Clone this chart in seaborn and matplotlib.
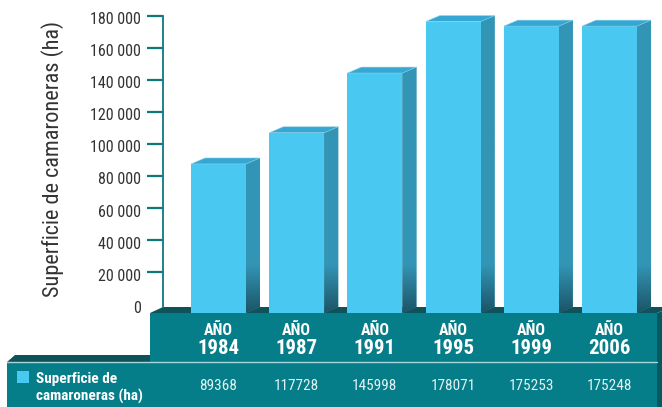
import numpy as np
import seaborn as sns
import matplotlib.pyplot as plt
from matplotlib import transforms
from matplotlib.patches import Polygon, Rectangle

# data
years = ["1984", "1987", "1991", "1995", "1999", "2006"]
# bar heights as drawn (the 1987 bar is drawn shorter than its table value)
bar_heights = [89368, 108800, 145998, 178071, 175253, 175248]
table_values = ["89368", "117728", "145998", "178071", "175253", "175248"]
y_ticks = [0, 20000, 40000, 60000, 80000, 100000, 120000, 140000, 160000, 180000]
y_tick_labels = ["0", "20 000", "40 000", "60 000", "80 000", "100 000",
                 "120 000", "140 000", "160 000", "180 000"]
series_name = "Superficie de\ncamaroneras (ha)"
y_title = "Superficie de camaroneras (ha)"

# colours
cyan = "#49c8f2"
top_col = "#36a7d2"
side_col = "#3395b6"
side_dark = "#1b5466"
teal = "#067e8a"
floor_col = "#0d5359"
axis_col = "#11777f"
text_col = "#333333"

sns.set_style("white")
cond = ["Roboto Condensed", "Fira Sans Condensed", "DejaVu Sans"]
plt.rcParams["font.family"] = cond

W, H = 662, 407
fig = plt.figure(figsize=(W / 100, H / 100), dpi=100)

# background axes in pixel units for the floor slab and table
bg = fig.add_axes([0, 0, 1, 1])
bg.set_xlim(0, W)
bg.set_ylim(H, 0)
bg.axis("off")

# main axes: value scale on the back plane
y0_px, y1_px, x0_px = 304.4, 15.5, 163
ax = fig.add_axes([x0_px / W, (H - y0_px) / H, (W - x0_px) / W, (y0_px - y1_px) / H])
ax.patch.set_alpha(0)

sns.barplot(x=years, y=bar_heights, color=cyan, saturation=1, width=0.703,
            edgecolor="none", ax=ax)
ax.set_xlim(-0.71, 5.671)
ax.set_ylim(0, 180000)

# pixel sizes in data units
px_y = 180000 / (y0_px - y1_px)
px_x = 1 / 78.2
dx, dy = 14 * px_x, 6 * px_y
shift = ax.transData + transforms.ScaledTranslation(0, -0.03, fig.dpi_scale_trans)
bottom = -5.6 * px_y

dark_rgb = np.array(plt.matplotlib.colors.to_rgb(side_dark))
side_rgb = np.array(plt.matplotlib.colors.to_rgb(side_col))

for p in ax.patches:
    x0, w, h = p.get_x(), p.get_width(), p.get_height()
    p.set_transform(shift)
    p.set_y(bottom)
    p.set_height(h - bottom)
    p.set_clip_on(False)
    p.set_zorder(3)
    # top face
    top = Polygon([(x0, h), (x0 + w, h), (x0 + w + dx, h + dy), (x0 + dx, h + dy)],
                  closed=True, facecolor=top_col, edgecolor="#8fd3ea", lw=0.4,
                  transform=shift, clip_on=False, zorder=3)
    ax.add_patch(top)
    # side face with a darker gradient near the floor
    side = Polygon([(x0 + w, h), (x0 + w + dx, h + dy), (x0 + w + dx, bottom + dy),
                    (x0 + w, bottom)], closed=True, facecolor=side_col,
                   edgecolor="none", transform=shift, clip_on=False, zorder=2)
    ax.add_patch(side)
    vals = np.linspace(bottom, h + dy, 300)
    t = np.clip((vals - bottom) / 30000, 0, 1)[:, None]
    grad = dark_rgb * (1 - t) + side_rgb * t
    im = ax.imshow(grad[:, None, :], extent=[x0 + w, x0 + w + dx, bottom, h + dy],
                   origin="lower", aspect="auto", transform=shift, zorder=2,
                   interpolation="bilinear")
    im.set_clip_path(side)
    im.set_clip_box(fig.bbox)

ax.set_xlim(-0.71, 5.671)
ax.set_ylim(0, 180000)

# axis styling
for s in ["top", "right", "bottom"]:
    ax.spines[s].set_visible(False)
ax.spines["left"].set_color(axis_col)
ax.spines["left"].set_linewidth(1.3)
ax.spines["left"].set_bounds(-3 * px_y, 180000)
ax.set_xticks([])
ax.set_xlabel("")
ax.set_yticks(y_ticks)
ax.set_yticklabels(y_tick_labels)
ax.tick_params(axis="y", left=True, direction="out", length=11.2, width=1.6,
               color=axis_col, labelsize=11.5, labelcolor=text_col, pad=4.6)
ax.yaxis.get_major_ticks()[0].tick1line.set_visible(False)
down = transforms.ScaledTranslation(0, -0.025, fig.dpi_scale_trans)
for lbl in ax.get_yticklabels():
    lbl.set_transform(lbl.get_transform() + down)
ax.set_ylabel(y_title, fontsize=16, color=text_col)
ax.yaxis.set_label_coords((64 - x0_px) / (W - x0_px), (y0_px - 159) / (y0_px - y1_px))

# floor slab, top faces and table
bg.add_patch(Polygon([(150, 313), (657, 313), (671, 307), (163, 307)], closed=True,
                     facecolor=floor_col, edgecolor="none"))
bg.add_patch(Rectangle((150, 313), 507, 49, facecolor=teal, edgecolor="none"))
bg.add_patch(Polygon([(7, 362), (150, 362), (150, 355), (15, 355)], closed=True,
                     facecolor=floor_col, edgecolor="none"))
bg.add_patch(Rectangle((7, 362), 650, 45, facecolor=teal, edgecolor="none"))
bg.add_patch(Polygon([(657, 313), (662, 311), (662, 407), (657, 407)], closed=True,
                     facecolor="#055a61", edgecolor="none"))
bg.plot([7, 657], [362, 362], color="#a9d6da", lw=1.0)

# legend marker and series name
bg.add_patch(Rectangle((17, 371), 12, 12, facecolor=cyan, edgecolor="none"))
bg.text(35.5, 388, series_name, ha="left", va="center", color="white",
        fontsize=11, fontweight="bold", linespacing=1.2)

# column headers and values aligned with the bars
for i, (yr, val) in enumerate(zip(years, table_values)):
    cx = ax.transData.transform((i, 0))[0]
    bg.text(cx, 330.5, "AÑO", ha="center", va="center", color="white",
            fontsize=11.5, fontweight="bold")
    bg.text(cx, 348.5, yr, ha="center", va="center", color="white",
            fontsize=15, fontweight="bold")
    bg.text(cx, 386, val, ha="center", va="center", color="#e2f2f3",
            fontsize=11)

fig.savefig("out.png", dpi=100)
